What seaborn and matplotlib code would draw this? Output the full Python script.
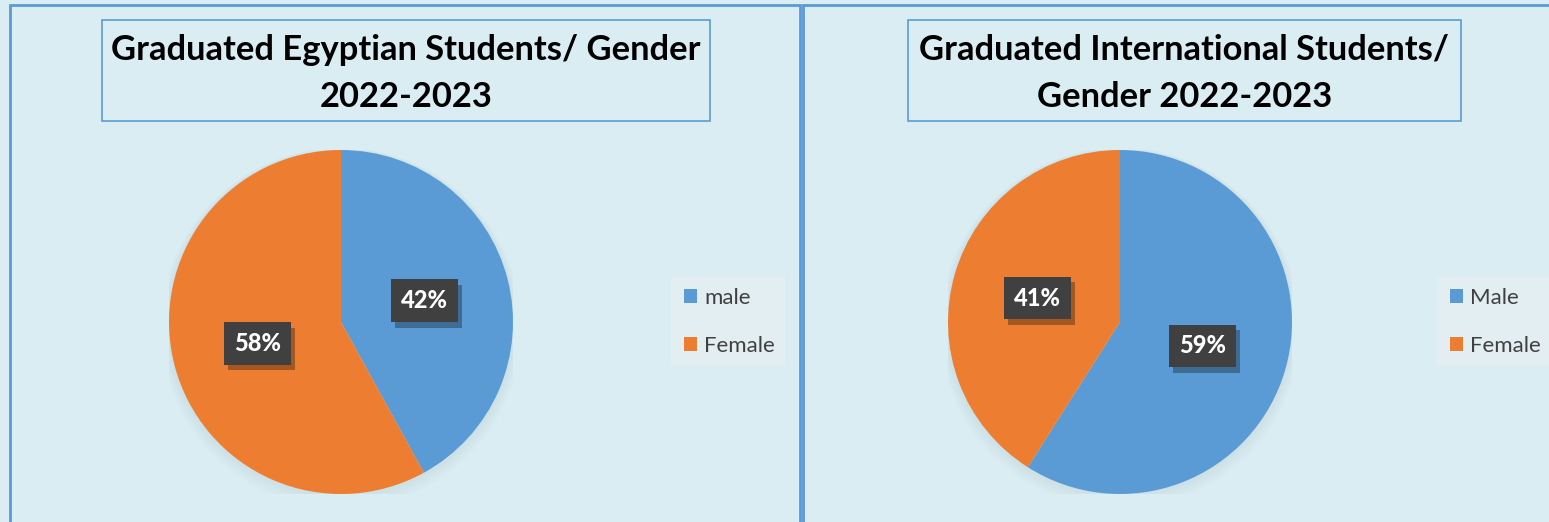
import matplotlib
matplotlib.use("Agg")
import matplotlib.pyplot as plt
import matplotlib.patheffects as pe
import numpy as np
import seaborn as sns
from matplotlib.patches import Rectangle, Patch

# ---- data ----
egy_labels = ["male", "Female"]
egy_values = [42, 58]
int_labels = ["Male", "Female"]
int_values = [59, 41]
titles = ["Graduated Egyptian Students/ Gender\n2022-2023",
          "Graduated International Students/\nGender 2022-2023"]

sns.set_theme(style="white")
plt.rcParams['font.family'] = ['Lato', 'DejaVu Sans']

BG = "#DAEDF3"
BORDER = "#5B9BD5"
colors = sns.color_palette(["#5B9BD5", "#ED7D31"])

W, H = 1549, 522
fig = plt.figure(figsize=(W / 100, H / 100), dpi=100)
fig.patch.set_facecolor(BG)

# background / frame axes in pixel coordinates
bg = fig.add_axes([0, 0, 1, 1])
bg.set_xlim(0, W)
bg.set_ylim(H, 0)
bg.axis("off")
bg.add_patch(Rectangle((10, 5), 790, 530, fc=BG, ec=BORDER, lw=2))
bg.add_patch(Rectangle((803, 5), 760, 530, fc=BG, ec=BORDER, lw=2))

# title boxes
title_boxes = [(102, 20, 608, 101), (908, 20, 553, 101)]
for (x, y, w, h), t in zip(title_boxes, titles):
    bg.add_patch(Rectangle((x, y), w, h, fc=BG, ec=BORDER, lw=1.2))
    bg.text(x + w / 2, y + h / 2 + 3, t, ha="center", va="center",
            fontsize=24.8, fontweight="bold", color="black", linespacing=1.58)

# legend boxes
legend_boxes = [(671, 277, 114, 89), (1437, 277, 112, 89)]
for (x, y, w, h) in legend_boxes:
    bg.add_patch(Rectangle((x, y), w, h, fc="#E2EEF2", ec="none"))


def draw_pie(cx, values, labels, legend_x):
    cy, r = 322, 172
    ax = fig.add_axes([(cx - r) / W, (H - cy - r) / H, 2 * r / W, 2 * r / H])
    # soft shadow
    for i in range(4):
        ax.add_patch(plt.Circle((0.0, -0.01 - 0.008 * i), 1.0 + 0.012 * (i + 1),
                                color="#7A9AA5", alpha=0.03, lw=0))
    ax.pie(values, colors=colors, startangle=90, counterclock=False,
           radius=1.0, wedgeprops=dict(lw=0))
    total = sum(values)
    cum = 0
    for v in values:
        mid = np.deg2rad(90 - 360 * (cum + v / 2) / total)
        cum += v
        x, y = 0.5 * np.cos(mid), 0.5 * np.sin(mid)
        t = ax.text(x, y, f"{v}%", ha="center", va="center", fontsize=17,
                    fontweight="black", color="white",
                    bbox=dict(boxstyle="square,pad=0.42", fc="#404040", ec="none"))
        t.get_bbox_patch().set_path_effects(
            [pe.SimplePatchShadow(offset=(3, -4), shadow_rgbFace="#000000", alpha=0.3),
             pe.Normal()])
    ax.set_xlim(-1, 1)
    ax.set_ylim(-1, 1)
    ax.set_aspect("equal")
    ax.axis("off")
    handles = [Patch(fc=c, ec="none") for c in colors]
    fig.legend(handles, labels, loc="center left",
               bbox_to_anchor=(legend_x / W, 1 - 322 / H),
               bbox_transform=fig.transFigure, frameon=False,
               fontsize=16, labelcolor="#404040", handlelength=0.6,
               handleheight=0.6, handletextpad=0.3, labelspacing=1.25,
               borderpad=0, borderaxespad=0)


draw_pie(341, egy_values, egy_labels, 684)
draw_pie(1120, int_values, int_labels, 1450)

fig.savefig("out.png", dpi=100, facecolor=BG)
